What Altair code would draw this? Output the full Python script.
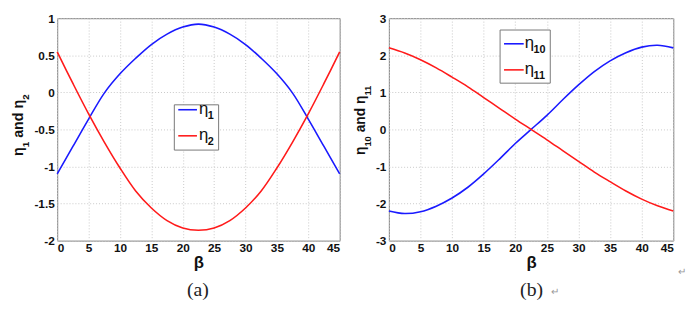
import altair as alt
import pandas as pd

beta = [0, 2.5, 5, 7.5, 10, 12.5, 15, 17.5, 20, 22.5, 25, 27.5, 30, 32.5, 35, 37.5, 40, 42.5, 45]
eta1 = [-1.10, -0.73, -0.36, -0.01, 0.25, 0.46, 0.645, 0.785, 0.88, 0.92,
        0.88, 0.785, 0.645, 0.46, 0.25, -0.01, -0.36, -0.73, -1.10]
eta2 = [0.545, 0.12, -0.29, -0.67, -1.02, -1.33, -1.56, -1.73, -1.83, -1.86,
        -1.83, -1.73, -1.56, -1.33, -1.02, -0.67, -0.29, 0.12, 0.545]
eta10 = [-2.20, -2.27, -2.22, -2.07, -1.85, -1.56, -1.20, -0.80, -0.38, 0.0,
         0.38, 0.80, 1.20, 1.56, 1.85, 2.07, 2.22, 2.27, 2.20]
eta11 = [2.20, 2.06, 1.88, 1.66, 1.41, 1.15, 0.86, 0.57, 0.28, 0.0,
         -0.28, -0.57, -0.86, -1.15, -1.41, -1.66, -1.88, -2.06, -2.20]

left_names = ["η1", "η2"]
right_names = ["η10", "η11"]
left_subs = ["1", "2"]
right_subs = ["10", "11"]
x_ticks = [0, 5, 10, 15, 20, 25, 30, 35, 40, 45]
left_y_ticks = [-2, -1.5, -1, -0.5, 0, 0.5, 1]
right_y_ticks = [-3, -2, -1, 0, 1, 2, 3]
captions = ["(a)", "(b)"]

BLUE = "#1a1aff"
RED = "#ff1a1a"
COLORS = [BLUE, RED]
H = 226
FONT = "Liberation Sans"

df_left = pd.DataFrame({
    "beta": beta + beta,
    "val": eta1 + eta2,
    "s": [left_names[0]] * len(beta) + [left_names[1]] * len(beta),
})
df_right = pd.DataFrame({
    "beta": beta + beta,
    "val": eta10 + eta11,
    "s": [right_names[0]] * len(beta) + [right_names[1]] * len(beta),
})

label_expr = "'' + datum.value"
one = pd.DataFrame({"a": [0]})


def xaxis():
    return alt.X("beta:Q", scale=alt.Scale(domain=[0, 45], nice=False),
                 axis=alt.Axis(values=x_ticks, title="β", labelExpr=label_expr,
                               titlePadding=1, labelPadding=2, titleFont=FONT,
                               titleFontSize=17, titleFontWeight="bold"))


def lines(df, names, domain, ticks):
    return alt.Chart(df).mark_line(strokeWidth=1.6, interpolate="catmull-rom").encode(
        x=xaxis(),
        y=alt.Y("val:Q", scale=alt.Scale(domain=domain, nice=False),
                axis=alt.Axis(values=ticks, title=None, labelExpr=label_expr, labelPadding=3)),
        color=alt.Color("s:N", scale=alt.Scale(domain=names, range=COLORS), legend=None),
    )


def txt(t, x, y, size, weight="bold", angle=0, color="#111", font=FONT):
    kw = dict(font=font, fontSize=size, fontWeight=weight, color=color,
              align="left", baseline="alphabetic")
    if angle:
        kw["angle"] = angle
    return alt.Chart(pd.DataFrame({"t": [t]})).mark_text(**kw).encode(
        x=alt.value(x), y=alt.value(y), text="t:N")


def ytitle(sub1, sub2, x, y0, size, subsize, shift):
    eta_w = 0.611 * size
    s1_w = 0.556 * subsize * len(sub1)
    space_w = 0.278 * size
    and_eta_w = 2.667 * size
    start = y0 - eta_w - s1_w - space_w
    parts = [
        txt("η", x, y0, size, angle=270),
        txt(sub1, x + shift, y0 - eta_w, subsize, angle=270),
        txt("and η", x, start, size, angle=270),
        txt(sub2, x + shift, start - and_eta_w, subsize, angle=270),
    ]
    return parts


def legend(subs, box, lx0, lx1, ly0, step, eta_x, sub_x, size, subsize):
    x0, x1, y0, y1 = box
    parts = [alt.Chart(one).mark_rect(fill="white", stroke="#777", strokeWidth=1).encode(
        x=alt.value(x0), x2=alt.value(x1), y=alt.value(y0), y2=alt.value(y1))]
    for i, (sub, col) in enumerate(zip(subs, COLORS)):
        ly = ly0 + i * step
        parts.append(alt.Chart(one).mark_rule(color=col, strokeWidth=1.6).encode(
            x=alt.value(lx0), x2=alt.value(lx1), y=alt.value(ly)))
        parts.append(txt("η", eta_x, ly + 4, size, weight="normal"))
        parts.append(txt(sub, sub_x, ly + 9, subsize))
    return parts


def caption(t, x):
    return alt.Chart(pd.DataFrame({"t": [t]})).mark_text(
        font="Liberation Serif", fontSize=20, color="#222").encode(
        x=alt.value(x), y=alt.value(276), text="t:N")


left = alt.layer(
    lines(df_left, left_names, [-2, 1], left_y_ticks),
    *legend(left_subs, (119, 164, 88, 134), 123, 142, 93, 26.5, 144, 153, 17, 11),
    *ytitle(left_subs[0], left_subs[1], -35, 140, 14.5, 10, 6),
    caption(captions[0], 143),
).properties(width=287, height=H)

marks = alt.Chart(pd.DataFrame({"t": ["↵", "↵"], "px": [169, 298], "py": [278, 258]})).mark_text(
    fontSize=10, color="#999").encode(x=alt.X("px:Q", scale=None), y=alt.Y("py:Q", scale=None), text="t:N")

right = alt.layer(
    lines(df_right, right_names, [-3, 3], right_y_ticks),
    *legend(right_subs, (113, 164, 12, 66), 117, 137, 26, 26.5, 138, 147, 17, 11),
    *ytitle(right_subs[0], right_subs[1], -24, 139, 14, 9.5, 6),
    caption(captions[1], 145),
    marks,
).properties(width=289, height=H)

chart = alt.hconcat(left, right, spacing=10).resolve_scale(
    color="independent", x="independent", y="independent"
).configure(
    padding={"left": 2, "top": 1, "right": 5, "bottom": 0},
    background="white",
).configure_view(
    stroke="#808080", strokeWidth=1
).configure_axis(
    labelFont=FONT, labelFontWeight="bold", labelFontSize=12, labelColor="#111",
    titleColor="#111",
    ticks=False, domain=False, grid=True, gridColor="#c8c8c8", gridDash=[1, 2], gridWidth=1,
)

chart.save("out.html", embed_options={"renderer": "svg", "actions": False})
